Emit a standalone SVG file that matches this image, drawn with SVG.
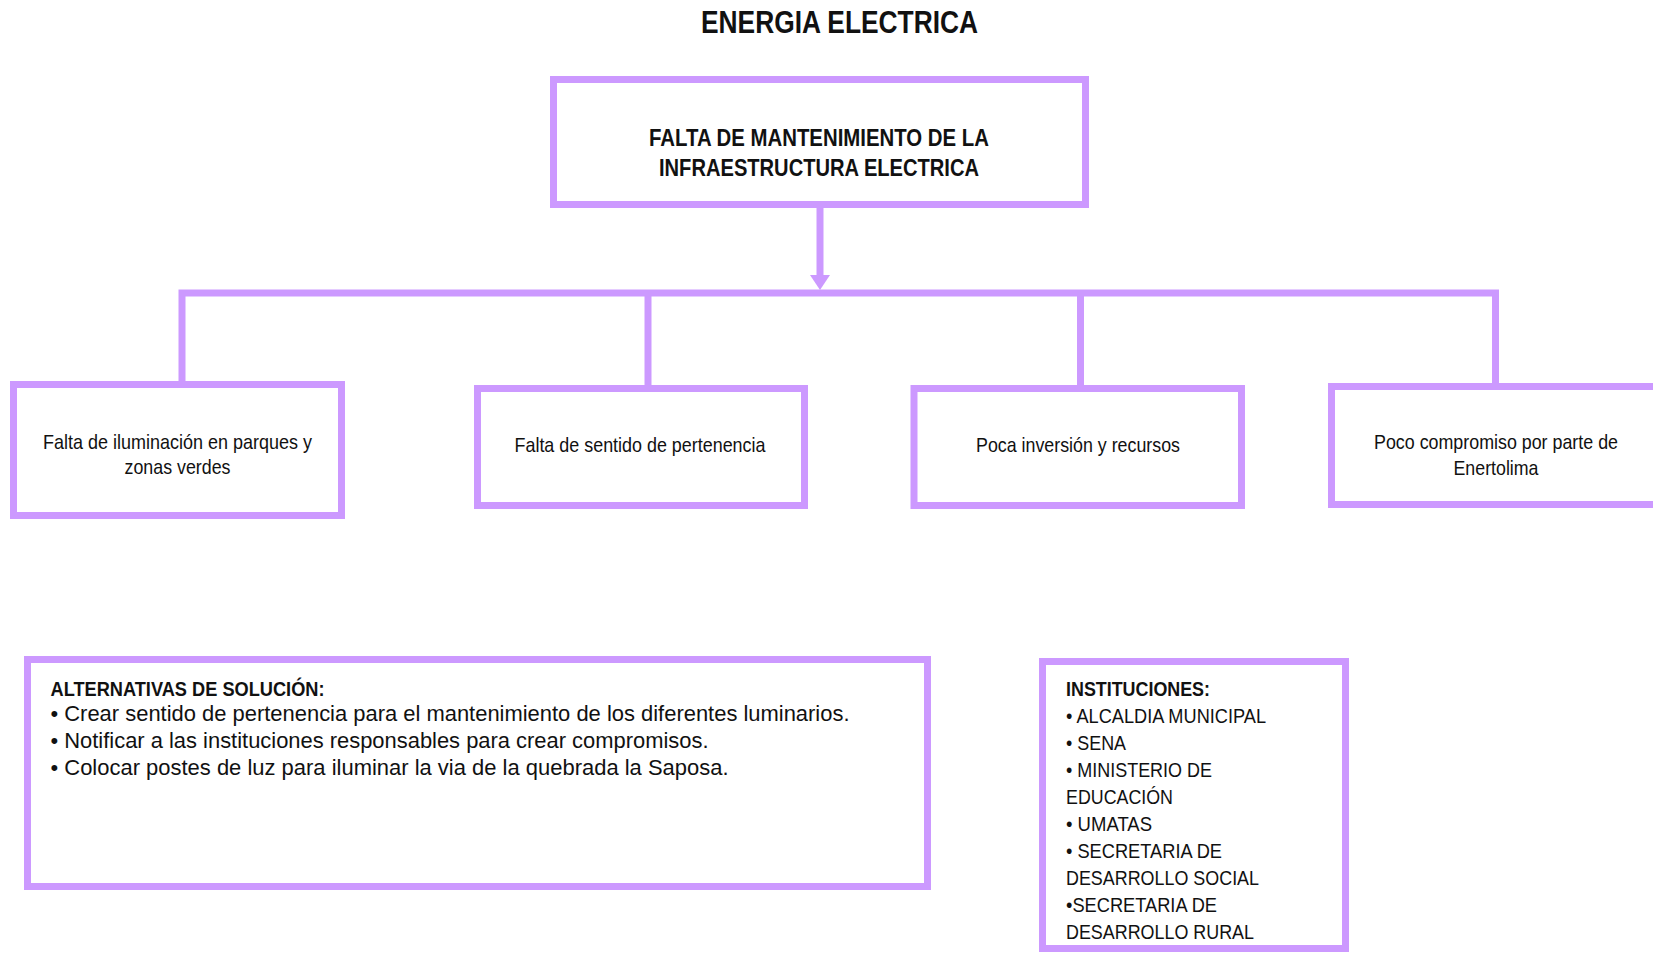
<svg xmlns="http://www.w3.org/2000/svg" width="1653" height="956" viewBox="0 0 1653 956">
<style>
.box{fill:#fff;stroke:#CC99FF;stroke-width:7}
.ln{fill:none;stroke:#CC99FF;stroke-width:7}
.n{font-family:"Liberation Sans Narrow","Liberation Sans",Arial,sans-serif;fill:#111}
.b{font-weight:bold}
.c{text-anchor:middle}
.a{font-family:"Liberation Sans",Arial,sans-serif;fill:#111}
</style>
<rect width="1653" height="956" fill="#fff"/>
<text class="n b c" x="839.5" y="33" font-size="32" textLength="277" lengthAdjust="spacingAndGlyphs">ENERGIA ELECTRICA</text>
<g id="connectors">
<path class="ln" d="M820,208 V277"/>
<polygon points="810,275 830,275 820,290" fill="#CC99FF"/>
<path class="ln" d="M182,381 V293 H1495.5 V383"/>
<path class="ln" d="M648,293 V385"/>
<path class="ln" d="M1080.5,293 V385"/>
</g>
<g id="main">
<rect class="box" x="553.5" y="79.5" width="532" height="125"/>
<text class="n b c" x="819" y="146" font-size="23" textLength="340" lengthAdjust="spacingAndGlyphs">FALTA DE MANTENIMIENTO DE LA</text>
<text class="n b c" x="819" y="176" font-size="23" textLength="320" lengthAdjust="spacingAndGlyphs">INFRAESTRUCTURA ELECTRICA</text>
</g>
<g id="cause1">
<rect class="box" x="13.5" y="384.5" width="328" height="131"/>
<text class="n c" x="177.5" y="449" font-size="21" textLength="269" lengthAdjust="spacingAndGlyphs">Falta de iluminación en parques y</text>
<text class="n c" x="177.5" y="474" font-size="21" textLength="106" lengthAdjust="spacingAndGlyphs">zonas verdes</text>
</g>
<g id="cause2">
<rect class="box" x="477.5" y="388.5" width="327" height="117"/>
<text class="n c" x="640" y="452" font-size="21" textLength="251" lengthAdjust="spacingAndGlyphs">Falta de sentido de pertenencia</text>
</g>
<g id="cause3">
<rect class="box" x="914" y="388.5" width="327.5" height="117"/>
<text class="n c" x="1078" y="452" font-size="21" textLength="204" lengthAdjust="spacingAndGlyphs">Poca inversión y recursos</text>
</g>
<g id="cause4">
<rect class="box" x="1331.5" y="386.5" width="400" height="118"/>
<text class="n c" x="1496" y="449" font-size="21" textLength="244" lengthAdjust="spacingAndGlyphs">Poco compromiso por parte de</text>
<text class="n c" x="1496" y="475" font-size="21" textLength="85" lengthAdjust="spacingAndGlyphs">Enertolima</text>
</g>
<g id="alternativas">
<rect class="box" x="27.5" y="659.5" width="900" height="227"/>
<text class="n b" x="50.5" y="696" font-size="21" textLength="274" lengthAdjust="spacingAndGlyphs">ALTERNATIVAS DE SOLUCIÓN:</text>
<text class="a" x="50.5" y="721" font-size="22" textLength="799" lengthAdjust="spacingAndGlyphs">• Crear sentido de pertenencia para el mantenimiento de los diferentes luminarios.</text>
<text class="a" x="50.5" y="748" font-size="22" textLength="658" lengthAdjust="spacingAndGlyphs">• Notificar a las instituciones responsables para crear compromisos.</text>
<text class="a" x="50.5" y="775" font-size="22" textLength="678" lengthAdjust="spacingAndGlyphs">• Colocar postes de luz para iluminar la via de la quebrada la Saposa.</text>
</g>
<g id="instituciones">
<rect class="box" x="1042.5" y="661.5" width="303" height="287"/>
<text class="n b" x="1066" y="696" font-size="21" textLength="144" lengthAdjust="spacingAndGlyphs">INSTITUCIONES:</text>
<text class="n" x="1066" y="723" font-size="21" textLength="200" lengthAdjust="spacingAndGlyphs">• ALCALDIA MUNICIPAL</text>
<text class="n" x="1066" y="750" font-size="21" textLength="60" lengthAdjust="spacingAndGlyphs">• SENA</text>
<text class="n" x="1066" y="777" font-size="21" textLength="146" lengthAdjust="spacingAndGlyphs">• MINISTERIO DE</text>
<text class="n" x="1066" y="804" font-size="21" textLength="107" lengthAdjust="spacingAndGlyphs">EDUCACIÓN</text>
<text class="n" x="1066" y="831" font-size="21" textLength="86" lengthAdjust="spacingAndGlyphs">• UMATAS</text>
<text class="n" x="1066" y="858" font-size="21" textLength="156" lengthAdjust="spacingAndGlyphs">• SECRETARIA DE</text>
<text class="n" x="1066" y="885" font-size="21" textLength="193" lengthAdjust="spacingAndGlyphs">DESARROLLO SOCIAL</text>
<text class="n" x="1066" y="912" font-size="21" textLength="151" lengthAdjust="spacingAndGlyphs">•SECRETARIA DE</text>
<text class="n" x="1066" y="939" font-size="21" textLength="188" lengthAdjust="spacingAndGlyphs">DESARROLLO RURAL</text>
</g>
</svg>
